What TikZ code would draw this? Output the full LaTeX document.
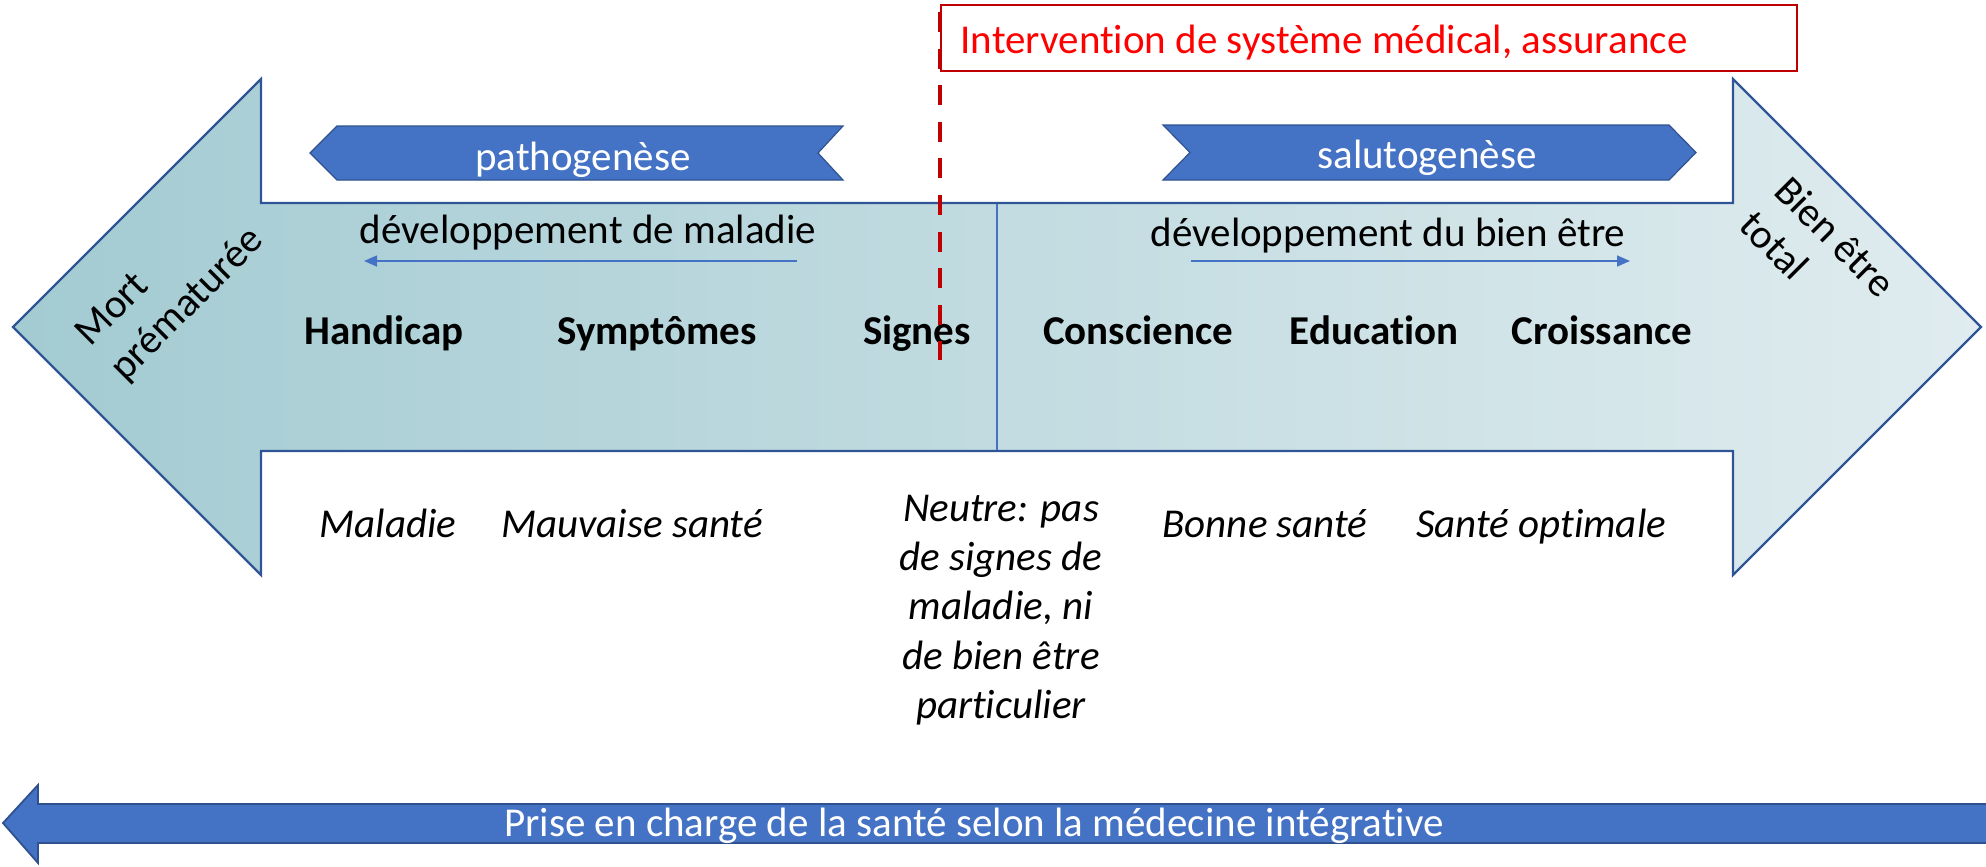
\documentclass[tikz,border=0pt]{standalone}
\usepackage{fontspec}
\setmainfont{Carlito}[Ligatures=NoCommon]
\usetikzlibrary{arrows.meta}
\definecolor{tealL}{RGB}{163,203,210}
\definecolor{tealR}{RGB}{224,236,239}
\definecolor{bord}{RGB}{47,85,151}
\definecolor{bluef}{RGB}{68,114,196}
\definecolor{blued}{RGB}{47,82,143}
\definecolor{redd}{RGB}{192,0,0}
\newcommand\mainsz{\fontsize{20.5}{24.7}\selectfont}
\begin{document}
\begin{tikzpicture}[x=0.5pt,y=-0.5pt,
  lbl/.style={font=\mainsz\bfseries, inner sep=0pt, anchor=base},
  itl/.style={font=\mainsz\itshape, inner sep=0pt, anchor=base},
  plain/.style={font=\mainsz, inner sep=0pt, anchor=base},
  rottxt/.style={font=\mainsz, inner sep=0pt, align=left},
  ribbon/.style={fill=bluef, draw=blued, line width=0.6pt, line join=miter},
  thinarrow/.style={draw=bluef, line width=0.8pt, -{Triangle[length=6.5pt,width=5.5pt]}},
  divline/.style={draw=bluef, line width=0.9pt},
  redline/.style={draw=redd, line width=2.25pt, dash pattern=on 10pt off 8.3pt}
]
\useasboundingbox (0,0) rectangle (1986,867);

% main double arrow
\path[draw=bord, line width=1.1pt, left color=tealL, right color=tealR, line join=miter]
  (13,327) -- (261,79) -- (261,203) -- (1733,203) -- (1733,79) -- (1981,327)
  -- (1733,575) -- (1733,451) -- (261,451) -- (261,575) -- cycle;
\coordinate (divtop) at (997,204);
\coordinate (divbot) at (997,450);
\draw[divline] (divtop) -- (divbot);

% pathogenese / salutogenese ribbons
\draw[ribbon] (310,153) -- (337,126) -- (843,126) -- (818,153) -- (843,180) -- (337,180) -- cycle;
\draw[ribbon] (1163,125) -- (1669,125) -- (1696,152.5) -- (1669,180) -- (1163,180) -- (1190,152.5) -- cycle;
\node[plain, text=white] (patho) at (583,170) {pathogenèse};
\node[plain, text=white] (saluto) at (1427,168) {salutogenèse};

% red box
\draw[draw=redd, line width=0.9pt, fill=white] (941,5) rectangle (1797,71);
\node[plain, text=red] (interv) at (1324,53) {Intervention de système médical, assurance};

% development labels and thin arrows
\node[plain] (devmal) at (588,243) {développement de maladie};
\node[plain] (devbien) at (1388,246) {développement du bien être};
\coordinate (la1) at (797,261);
\coordinate (la2) at (364,261);
\coordinate (ra1) at (1191,261);
\coordinate (ra2) at (1630,261);
\draw[thinarrow] (la1) -- (la2);
\draw[thinarrow] (ra1) -- (ra2);

% bold labels
\node[lbl] (handicap) at (384,344) {Handicap};
\node[lbl] (sympt) at (657,344) {Symptômes};
\node[lbl] (signes) at (917,344) {Signes};
\node[lbl] (consc) at (1138,344) {Conscience};
\node[lbl] (educ) at (1374,344) {Education};
\node[lbl] (crois) at (1602,344) {Croissance};

% red dashed line
\coordinate (rdtop) at (940,12);
\coordinate (rdbot) at (940,360);
\draw[redline] (rdtop) -- (rdbot);

% rotated end labels
\node[rottxt, rotate=45] (mort) at (171,288) {Mort\\prématurée};
\node[rottxt, rotate=-45] (bien) at (1818,254) {Bien être\\total};

% italic labels
\node[itl] (maladie) at (388,537) {Maladie};
\node[itl] (mauv) at (632,537) {Mauvaise santé};
\node[font=\mainsz\itshape, inner sep=0pt, align=center] (neutre) at (1001,610)
  {Neutre: pas\\de signes de\\maladie, ni\\de bien être\\particulier};
\node[itl] (bonne) at (1265,537) {Bonne santé};
\node[itl] (optim) at (1541,537) {Santé optimale};

% bottom arrow
\fill[bluef] (3,823) -- (38,785) -- (38,804) -- (1986,804) -- (1986,843) -- (38,843) -- (38,863) -- cycle;
\draw[draw=blued, line width=0.9pt, line join=miter]
  (1986,804) -- (38,804) -- (38,785) -- (3,823) -- (38,863) -- (38,843) -- (1986,843);
\node[plain, text=white] (prise) at (974,836) {Prise en charge de la santé selon la médecine intégrative};
\end{tikzpicture}
\end{document}
